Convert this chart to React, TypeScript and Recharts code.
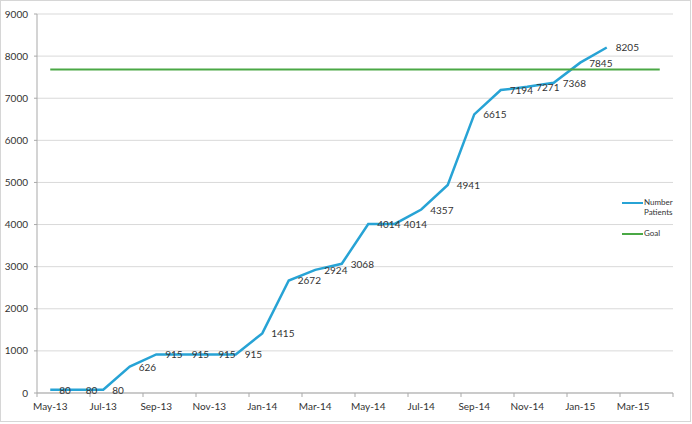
import { CartesianGrid, LabelList, Legend, Line, LineChart, XAxis, YAxis } from 'recharts';

// Monthly categories shown on the x axis (labels every second month)
const months = [
  'May-13', 'Jun-13', 'Jul-13', 'Aug-13', 'Sep-13', 'Oct-13', 'Nov-13', 'Dec-13',
  'Jan-14', 'Feb-14', 'Mar-14', 'Apr-14', 'May-14', 'Jun-14', 'Jul-14', 'Aug-14',
  'Sep-14', 'Oct-14', 'Nov-14', 'Dec-14', 'Jan-15', 'Feb-15', 'Mar-15', 'Apr-15',
];

// Cumulative patients, null where no data yet
const patients: Array<number | null> = [
  80, 80, 80, 626, 915, 915, 915, 915,
  1415, 2672, 2924, 3068, 4014, 4014, 4357, 4941,
  6615, 7194, 7271, 7368, 7845, 8205, null, null,
];

const GOAL = 7680;
const yTicks = [0, 1000, 2000, 3000, 4000, 5000, 6000, 7000, 8000, 9000];

const chartData = months.map((m, i) => ({ name: m, patients: patients[i], goal: GOAL }));

const WIDTH = 692;
const HEIGHT = 424;
const Y_AXIS_W = 37;
const RIGHT = 19;
const BAND = (WIDTH - Y_AXIS_W - RIGHT) / months.length;

const BLUE = '#27a3d5';
const GREEN = '#4aa845';
const AXIS = '#a9a9a9';
const TEXT = '#333';
const FONT = 'Lato, "Open Sans", sans-serif';

// x tick: label on every other month, tick marks on the band boundaries
function MonthTick(props: any) {
  const { x, y, payload, index } = props;
  const last = index === months.length - 1;
  return (
    <g>
      {index % 2 === 0 && (
        <line x1={x - BAND / 2} x2={x - BAND / 2} y1={y} y2={y + 4} stroke={AXIS} />
      )}
      {last && <line x1={x + BAND / 2} x2={x + BAND / 2} y1={y} y2={y + 4} stroke={AXIS} />}
      {index % 2 === 0 && (
        <text x={x} y={y + 17} textAnchor="middle" fontSize={10} fill={TEXT} fontFamily={FONT}>
          {payload.value}
        </text>
      )}
    </g>
  );
}

function PointLabel(props: any) {
  const { x, y, value } = props;
  if (value === null || value === undefined) return null;
  return (
    <text x={x + 9} y={y} dominantBaseline="central" fontSize={10} fill={TEXT} fontFamily={FONT}>
      {value}
    </text>
  );
}

function LegendBox() {
  return (
    <div style={{ position: 'relative', width: 70, height: 45, fontFamily: FONT, fontSize: 8, color: TEXT }}>
      <div style={{ position: 'absolute', left: 0, top: 5, width: 21, height: 2, background: BLUE }} />
      <div style={{ position: 'absolute', left: 22, top: 1, lineHeight: '9.5px' }}>
        Number
        <br />
        Patients
      </div>
      <div style={{ position: 'absolute', left: 0, top: 36, width: 21, height: 2, background: GREEN }} />
      <div style={{ position: 'absolute', left: 22, top: 32, lineHeight: '9.5px' }}>Goal</div>
    </div>
  );
}

export default function App() {
  return (
    <div style={{ position: 'absolute', left: 0, top: 0, width: WIDTH, height: HEIGHT, background: '#fff' }}>
      <div
        style={{
          position: 'absolute',
          left: 0,
          top: 0,
          width: 691,
          height: 422,
          boxSizing: 'border-box',
          border: '1px solid #d6d6d6',
        }}
      />
      <div style={{ position: 'absolute', left: 0, top: 0 }}>
        <LineChart
          width={WIDTH}
          height={HEIGHT}
          data={chartData}
          margin={{ top: 14, right: RIGHT, left: 0, bottom: 6 }}
        >
          <CartesianGrid vertical={false} stroke="#d9d9d9" />
          <XAxis
            dataKey="name"
            scale="band"
            interval={0}
            height={25}
            tickSize={0}
            tickMargin={0}
            tickLine={false}
            axisLine={{ stroke: AXIS }}
            tick={<MonthTick />}
          />
          <YAxis
            width={Y_AXIS_W}
            domain={[0, 9000]}
            ticks={yTicks}
            tickSize={3}
            tickMargin={6}
            axisLine={{ stroke: AXIS }}
            tickLine={{ stroke: AXIS }}
            tick={{ fontSize: 10, fill: TEXT, fontFamily: FONT }}
          />
          <Legend
            layout="horizontal"
            verticalAlign="middle"
            align="center"
            wrapperStyle={{ position: 'absolute', left: 622, top: 197, width: 70 }}
            content={() => <LegendBox />}
          />
          <Line
            type="linear"
            dataKey="patients"
            name="Number Patients"
            stroke={BLUE}
            strokeWidth={2.5}
            dot={false}
            isAnimationActive={false}
          >
            <LabelList dataKey="patients" content={<PointLabel />} />
          </Line>
          <Line
            type="linear"
            dataKey="goal"
            name="Goal"
            stroke={GREEN}
            strokeWidth={2}
            dot={false}
            isAnimationActive={false}
          />
        </LineChart>
      </div>
    </div>
  );
}
